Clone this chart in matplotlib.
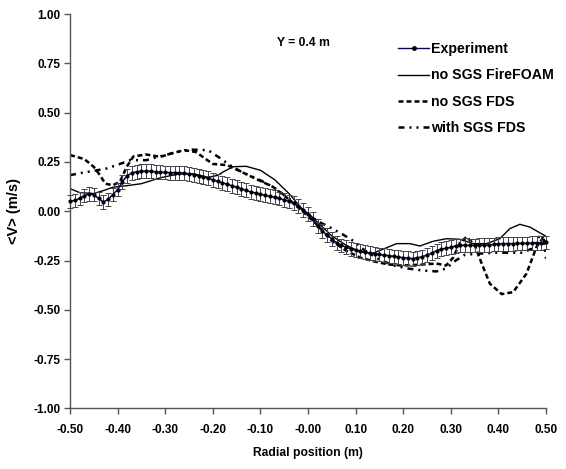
import numpy as np
import matplotlib
matplotlib.use("Agg")
import matplotlib.pyplot as plt
from matplotlib.lines import Line2D

plt.rcParams['font.family'] = ['Liberation Sans', 'DejaVu Sans']
plt.rcParams['font.weight'] = 'bold'

# experiment, radial positions -0.50 .. 0.50 every 0.01
exp_x = np.round(np.arange(-0.50, 0.505, 0.01), 2)
exp_v = [0.050, 0.055, 0.065, 0.080, 0.087, 0.085, 0.065, 0.047, 0.060, 0.085,
         0.110, 0.150, 0.180, 0.195, 0.200, 0.203, 0.204, 0.203, 0.200, 0.198,
         0.197, 0.196, 0.196, 0.195, 0.193, 0.190, 0.186, 0.180, 0.175, 0.168,
         0.160, 0.152, 0.145, 0.137, 0.130, 0.122, 0.114, 0.106, 0.098, 0.093,
         0.087, 0.081, 0.076, 0.071, 0.065, 0.058, 0.050, 0.040, 0.025, 0.008,
         -0.012, -0.040, -0.075, -0.100, -0.120, -0.140, -0.160, -0.173, -0.182, -0.190,
         -0.197, -0.203, -0.208, -0.212, -0.216, -0.219, -0.222, -0.225, -0.229, -0.232,
         -0.235, -0.238, -0.240, -0.236, -0.230, -0.222, -0.212, -0.200, -0.192, -0.188,
         -0.182, -0.176, -0.173, -0.172, -0.173, -0.173, -0.172, -0.172, -0.171, -0.168,
         -0.165, -0.164, -0.164, -0.164, -0.163, -0.163, -0.163, -0.162, -0.161, -0.160,
         -0.158]
exp_err = 0.035

foam_x = [-0.50, -0.48, -0.45, -0.43, -0.41, -0.38, -0.35, -0.31, -0.27, -0.24,
          -0.21, -0.19, -0.178, -0.157, -0.13, -0.10, -0.07, -0.04, -0.01, 0.005,
          0.02, 0.05, 0.08, 0.11, 0.137, 0.165, 0.186, 0.214, 0.235, 0.263,
          0.291, 0.319, 0.347, 0.375, 0.403, 0.424, 0.445, 0.466, 0.50]
foam_v = [0.115, 0.095, 0.090, 0.105, 0.122, 0.130, 0.140, 0.170, 0.190, 0.190,
          0.172, 0.182, 0.200, 0.226, 0.228, 0.208, 0.160, 0.090, 0.005, -0.020,
          -0.055, -0.125, -0.172, -0.206, -0.212, -0.185, -0.164, -0.164, -0.176, -0.152,
          -0.139, -0.142, -0.164, -0.164, -0.139, -0.088, -0.066, -0.080, -0.127]

fds_x = [-0.50, -0.47, -0.45, -0.437, -0.426, -0.41, -0.395, -0.381, -0.367, -0.34,
         -0.31, -0.283, -0.26, -0.235, -0.215, -0.20, -0.17, -0.14, -0.11, -0.073,
         -0.04, -0.01, 0.02, 0.05, 0.08, 0.11, 0.14, 0.17, 0.20, 0.24,
         0.27, 0.29, 0.305, 0.319, 0.333, 0.35, 0.365, 0.382, 0.407, 0.431,
         0.459, 0.48, 0.494, 0.50]
fds_v = [0.285, 0.265, 0.225, 0.183, 0.140, 0.132, 0.150, 0.225, 0.278, 0.288,
         0.276, 0.296, 0.310, 0.300, 0.265, 0.240, 0.234, 0.200, 0.165, 0.123,
         0.060, -0.003, -0.070, -0.150, -0.200, -0.235, -0.255, -0.270, -0.275, -0.270,
         -0.265, -0.275, -0.235, -0.160, -0.130, -0.170, -0.266, -0.367, -0.420, -0.410,
         -0.316, -0.181, -0.134, -0.150]

sgs_x = [-0.50, -0.475, -0.45, -0.423, -0.395, -0.374, -0.34, -0.31, -0.276, -0.248,
         -0.21, -0.185, -0.164, -0.14, -0.10, -0.073, -0.04, -0.01, 0.02, 0.045,
         0.07, 0.095, 0.12, 0.15, 0.18, 0.21, 0.24, 0.27, 0.29, 0.31,
         0.33, 0.36, 0.39, 0.42, 0.45, 0.47, 0.485, 0.495, 0.50]
sgs_v = [0.183, 0.195, 0.205, 0.217, 0.240, 0.259, 0.259, 0.279, 0.300, 0.313,
         0.310, 0.270, 0.234, 0.200, 0.157, 0.123, 0.065, 0.005, -0.050, -0.080,
         -0.113, -0.150, -0.200, -0.245, -0.275, -0.290, -0.300, -0.305, -0.290, -0.250,
         -0.220, -0.215, -0.210, -0.210, -0.210, -0.190, -0.130, -0.135, -0.240]

fig = plt.figure(figsize=(5.66, 4.69), dpi=100)
ax = fig.add_axes([0.1237, 0.129, 0.841, 0.841])

ax.errorbar(exp_x, exp_v, yerr=exp_err, color='#000080', lw=1.1,
            marker='o', ms=2.0, mfc='black', mec='black',
            ecolor='#444444', elinewidth=0.7, capsize=2, capthick=0.7,
            zorder=3, clip_on=False)
l_foam, = ax.plot(foam_x, foam_v, color='black', lw=1.0)
l_fds, = ax.plot(fds_x, fds_v, color='black', lw=1.8, dashes=(2.0, 1.2))
l_sgs, = ax.plot(sgs_x, sgs_v, color='black', lw=1.8,
                 dashes=(2.4, 2.0, 0.8, 2.0, 0.8, 2.0))
exp_handle = Line2D([], [], color='#000080', lw=1.0, marker='o', ms=2.5,
                    mfc='black', mec='black')

ax.set_xlim(-0.5, 0.5)
ax.set_ylim(-1.0, 1.0)
ax.set_xticks(np.arange(-0.5, 0.51, 0.1))
ax.set_yticks(np.arange(-1.0, 1.01, 0.25))
ax.set_xticklabels([f'{t:.2f}' for t in np.arange(-0.5, 0.51, 0.1)])
ax.set_yticklabels([f'{t:.2f}' for t in np.arange(-1.0, 1.01, 0.25)])
ax.tick_params(axis='both', direction='out', length=4, width=1,
               color='#555555', labelsize=8.5)
ax.tick_params(axis='x', pad=7)
ax.tick_params(axis='y', pad=3)
for s in ['top', 'right']:
    ax.spines[s].set_visible(False)
for s in ['left', 'bottom']:
    ax.spines[s].set_color('#555555')
    ax.spines[s].set_linewidth(1)

ax.set_xlabel('Radial position (m)', fontsize=8.7, fontweight='bold', labelpad=8)
ax.set_ylabel('<V> (m/s)', fontsize=10.5, fontweight='bold', labelpad=9)
ax.text(-0.01, 0.855, 'Y = 0.4 m', fontsize=8.7, fontweight='bold',
        ha='center', va='center')

ax.legend([exp_handle, l_foam, l_fds, l_sgs],
          ['Experiment', 'no SGS FireFOAM', 'no SGS FDS', 'with SGS FDS'],
          loc='upper left', bbox_to_anchor=(0.674, 0.946), frameon=False,
          fontsize=10.2, handlelength=2.2, handletextpad=0.15,
          labelspacing=0.85, borderpad=0)

fig.savefig('out.png', dpi=100)
